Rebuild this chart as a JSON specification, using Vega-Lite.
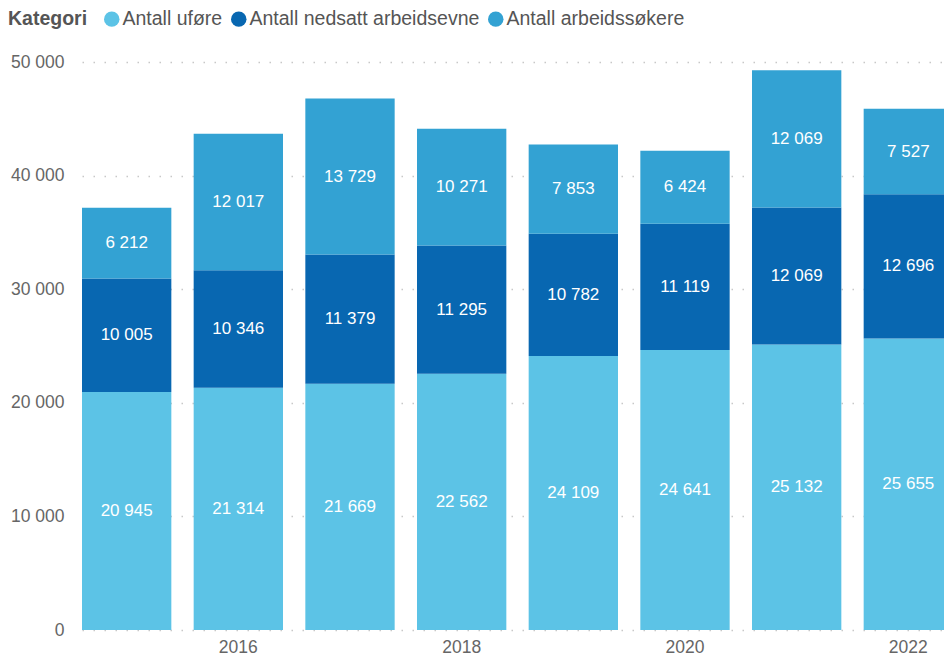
{
  "$schema": "https://vega.github.io/schema/vega-lite/v6.json",
  "autosize": "none",
  "width": 862,
  "height": 568,
  "padding": {"left": 82, "top": 62, "right": 0, "bottom": 27},
  "background": "white",
  "config": {
    "locale": {"number": {"decimal": ",", "thousands": " ", "grouping": [3], "currency": ["", " kr"]}},
    "view": {"stroke": null},
    "font": "Liberation Sans"
  },
  "data": {
    "values": [
      {"year": "2015", "kategori": "Antall uføre", "ord": 1, "value": 20945},
      {"year": "2015", "kategori": "Antall nedsatt arbeidsevne", "ord": 2, "value": 10005},
      {"year": "2015", "kategori": "Antall arbeidssøkere", "ord": 3, "value": 6212},
      {"year": "2016", "kategori": "Antall uføre", "ord": 1, "value": 21314},
      {"year": "2016", "kategori": "Antall nedsatt arbeidsevne", "ord": 2, "value": 10346},
      {"year": "2016", "kategori": "Antall arbeidssøkere", "ord": 3, "value": 12017},
      {"year": "2017", "kategori": "Antall uføre", "ord": 1, "value": 21669},
      {"year": "2017", "kategori": "Antall nedsatt arbeidsevne", "ord": 2, "value": 11379},
      {"year": "2017", "kategori": "Antall arbeidssøkere", "ord": 3, "value": 13729},
      {"year": "2018", "kategori": "Antall uføre", "ord": 1, "value": 22562},
      {"year": "2018", "kategori": "Antall nedsatt arbeidsevne", "ord": 2, "value": 11295},
      {"year": "2018", "kategori": "Antall arbeidssøkere", "ord": 3, "value": 10271},
      {"year": "2019", "kategori": "Antall uføre", "ord": 1, "value": 24109},
      {"year": "2019", "kategori": "Antall nedsatt arbeidsevne", "ord": 2, "value": 10782},
      {"year": "2019", "kategori": "Antall arbeidssøkere", "ord": 3, "value": 7853},
      {"year": "2020", "kategori": "Antall uføre", "ord": 1, "value": 24641},
      {"year": "2020", "kategori": "Antall nedsatt arbeidsevne", "ord": 2, "value": 11119},
      {"year": "2020", "kategori": "Antall arbeidssøkere", "ord": 3, "value": 6424},
      {"year": "2021", "kategori": "Antall uføre", "ord": 1, "value": 25132},
      {"year": "2021", "kategori": "Antall nedsatt arbeidsevne", "ord": 2, "value": 12069},
      {"year": "2021", "kategori": "Antall arbeidssøkere", "ord": 3, "value": 12069},
      {"year": "2022", "kategori": "Antall uføre", "ord": 1, "value": 25655},
      {"year": "2022", "kategori": "Antall nedsatt arbeidsevne", "ord": 2, "value": 12696},
      {"year": "2022", "kategori": "Antall arbeidssøkere", "ord": 3, "value": 7527}
    ]
  },
  "transform": [
    {"stack": "value", "groupby": ["year"], "sort": [{"field": "ord", "order": "ascending"}], "as": ["v0", "v1"]},
    {"calculate": "(datum.v0 + datum.v1) / 2", "as": "mid"}
  ],
  "encoding": {
    "x": {
      "field": "year",
      "type": "ordinal",
      "scale": {"range": [0, 871], "paddingInner": 0.2, "paddingOuter": 0},
      "axis": {
        "title": null,
        "labelAngle": 0,
        "domain": false,
        "ticks": false,
        "labelExpr": "toNumber(datum.value) % 2 == 0 ? datum.value : ''",
        "labelFontSize": 17.5,
        "labelColor": "#666666",
        "labelPadding": 8
      }
    }
  },
  "layer": [
    {
      "mark": {"type": "bar", "clip": true},
      "encoding": {
        "y": {
          "field": "v0",
          "type": "quantitative",
          "scale": {"domain": [0, 50000], "nice": false},
          "axis": {
            "title": null,
            "values": [0, 10000, 20000, 30000, 40000, 50000],
            "format": ",d",
            "domain": false,
            "ticks": false,
            "labelFontSize": 17.5,
            "labelColor": "#666666",
            "labelPadding": 18,
            "gridColor": "#c8c8c8",
            "gridWidth": 1.5,
            "gridDash": [1.5, 9.5]
          }
        },
        "y2": {"field": "v1"},
        "color": {
          "field": "kategori",
          "type": "nominal",
          "scale": {
            "domain": ["Antall uføre", "Antall nedsatt arbeidsevne", "Antall arbeidssøkere"],
            "range": ["#5CC3E6", "#0867B1", "#33A2D3"]
          },
          "legend": {
            "title": "Kategori",
            "orient": "none",
            "legendX": -74,
            "legendY": -53,
            "direction": "horizontal",
            "titleOrient": "left",
            "titleFontSize": 19.5,
            "titleFontWeight": "bold",
            "titleColor": "#555555",
            "titlePadding": 14,
            "labelFontSize": 19.5,
            "labelColor": "#555555",
            "labelOffset": 1,
            "labelLimit": 400,
            "symbolType": "circle",
            "symbolSize": 240,
            "symbolStrokeWidth": 0,
            "columnPadding": 6
          }
        }
      }
    },
    {
      "mark": {"type": "text", "color": "white", "fontSize": 17, "clip": true},
      "encoding": {
        "y": {"field": "mid", "type": "quantitative"},
        "text": {"field": "value", "type": "quantitative", "format": ",d"}
      }
    }
  ]
}
